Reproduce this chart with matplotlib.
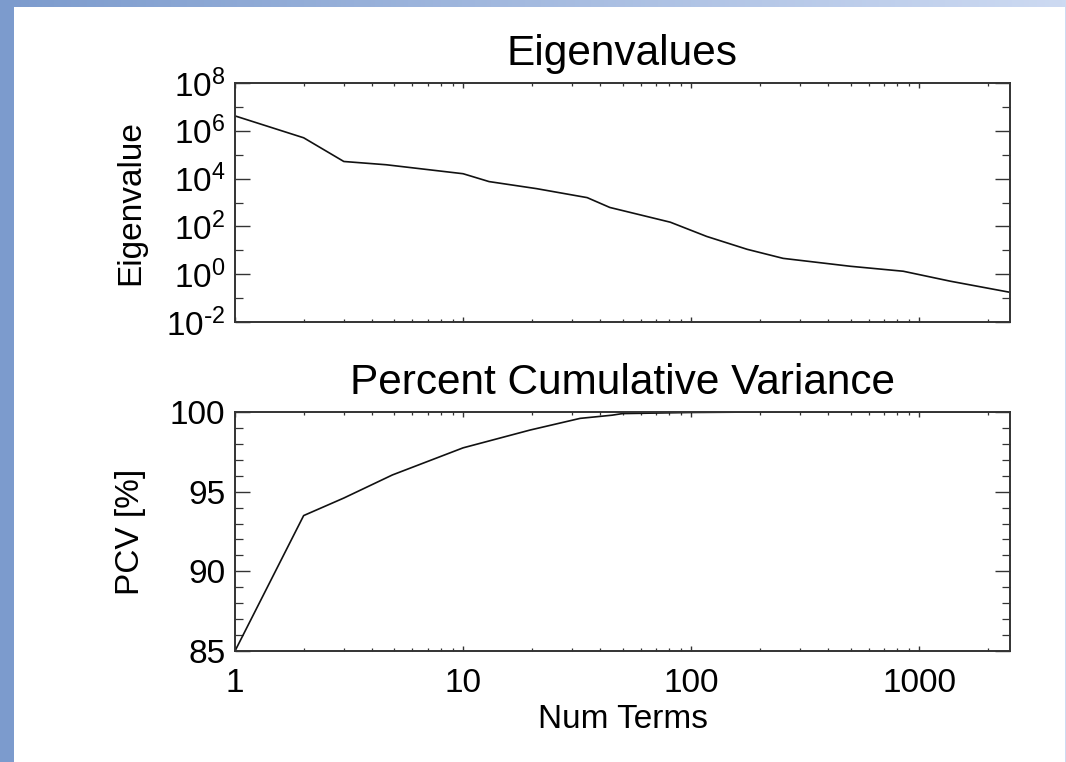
import numpy as np
import matplotlib
matplotlib.use("Agg")
import matplotlib.pyplot as plt
from matplotlib.patches import Rectangle
from matplotlib.ticker import FixedLocator, FixedFormatter, NullFormatter

plt.rcParams['font.family'] = ['Liberation Sans', 'DejaVu Sans']
plt.rcParams['mathtext.default'] = 'regular'

# ---- data ----
eig_terms = [1, 2, 3, 4.6, 10, 13, 21, 35, 44, 81, 117, 176, 253, 498, 851, 1368, 2457]
eig_values = [4.2e6, 5.1e5, 5.2e4, 3.8e4, 1.6e4, 7.5e3, 3.8e3, 1.6e3, 6.2e2, 1.5e2,
              38, 11, 4.6, 2.15, 1.33, 0.51, 0.18]

pcv_terms = [1, 2, 3, 4.9, 10, 19.7, 32.6, 45, 50, 100, 200, 2500]
pcv_values = [85.0, 93.5, 94.6, 96.05, 97.75, 98.87, 99.6, 99.8, 99.9, 99.97, 100.0, 100.0]

x_ticks = [1, 10, 100, 1000]
x_ticklabels = ['1', '10', '100', '1000']
eig_major = [1e-2, 1e0, 1e2, 1e4, 1e6, 1e8]
eig_major_labels = [r'$10^{\text{-}2}$', '$10^{0}$', '$10^{2}$', '$10^{4}$', '$10^{6}$', '$10^{8}$']
eig_minor = [1e-1, 1e1, 1e3, 1e5, 1e7]
pcv_major = [85, 90, 95, 100]
pcv_minor = list(range(85, 101))

W, H = 1066, 762
fig = plt.figure(figsize=(W / 100, H / 100), dpi=100)

# background (slide-like blue frame)
bg = fig.add_axes([0, 0, 1, 1], zorder=-10)
grad = np.linspace(0, 1, 256)[None, :, None]
c0 = np.array([124, 155, 205]) / 255.0
c1 = np.array([205, 218, 242]) / 255.0
img = c0 + (c1 - c0) * grad
bg.imshow(img, aspect='auto', extent=[0, W, H, 0])
bg.add_patch(Rectangle((14, 7), 1051, H - 7, facecolor='white', edgecolor='none'))
bg.set_xlim(0, W)
bg.set_ylim(H, 0)
bg.axis('off')

def px_axes(x0, y0, x1, y1):
    return [x0 / W, 1 - y1 / H, (x1 - x0) / W, (y1 - y0) / H]

ax1 = fig.add_axes(px_axes(235, 83, 1010, 322))
ax2 = fig.add_axes(px_axes(235, 412, 1010, 651))

FS_T = 30.5
FS = 24
LC = '#111111'

for ax in (ax1, ax2):
    ax.set_facecolor('none')
    ax.set_xscale('log')
    ax.set_xlim(1, 2500)
    for s in ax.spines.values():
        s.set_linewidth(1.4)
        s.set_color('#333333')
    ax.xaxis.set_major_locator(FixedLocator(x_ticks))
    ax.xaxis.set_minor_locator(FixedLocator(
        [m * 10 ** d for d in range(0, 4) for m in range(2, 10) if m * 10 ** d <= 2500]))
    ax.xaxis.set_minor_formatter(NullFormatter())
    ax.tick_params(axis='x', which='major', direction='in', top=True, bottom=True,
                   length=3.5, width=1.0, color='#333333', labelsize=FS, pad=12)
    ax.tick_params(axis='x', which='minor', direction='in', top=True, bottom=True,
                   length=2.2, width=0.9, color='#333333')
    ax.tick_params(axis='y', which='major', direction='in', left=True, right=True,
                   length=10.8, width=1.0, color='#333333', labelsize=FS, pad=7)
    ax.tick_params(axis='y', which='minor', direction='in', left=True, right=True,
                   length=5.6, width=0.9, color='#333333')

# Eigenvalues panel
ax1.plot(eig_terms, eig_values, color=LC, lw=1.2)
ax1.set_yscale('log')
ax1.set_ylim(1e-2, 1e8)
ax1.yaxis.set_major_locator(FixedLocator(eig_major))
ax1.yaxis.set_major_formatter(FixedFormatter(eig_major_labels))
ax1.yaxis.set_minor_locator(FixedLocator(eig_minor))
ax1.yaxis.set_minor_formatter(NullFormatter())
ax1.xaxis.set_major_formatter(NullFormatter())
ax1.set_title('Eigenvalues', fontsize=FS_T, pad=13)
ax1.set_ylabel('Eigenvalue', fontsize=FS)
ax1.yaxis.set_label_coords(-0.115, 0.5)

# PCV panel
ax2.plot(pcv_terms, pcv_values, color=LC, lw=1.2)
ax2.set_ylim(85, 100)
ax2.yaxis.set_major_locator(FixedLocator(pcv_major))
ax2.yaxis.set_major_formatter(FixedFormatter([str(v) for v in pcv_major]))
ax2.yaxis.set_minor_locator(FixedLocator(pcv_minor))
ax2.xaxis.set_major_formatter(FixedFormatter(x_ticklabels))
ax2.set_title('Percent Cumulative Variance', fontsize=FS_T, pad=13)
ax2.set_ylabel('PCV [%]', fontsize=FS)
ax2.yaxis.set_label_coords(-0.115, 0.5)
ax2.set_xlabel('Num Terms', fontsize=FS)
ax2.xaxis.set_label_coords(0.5, -0.222)

fig.savefig('out.png', dpi=100)
